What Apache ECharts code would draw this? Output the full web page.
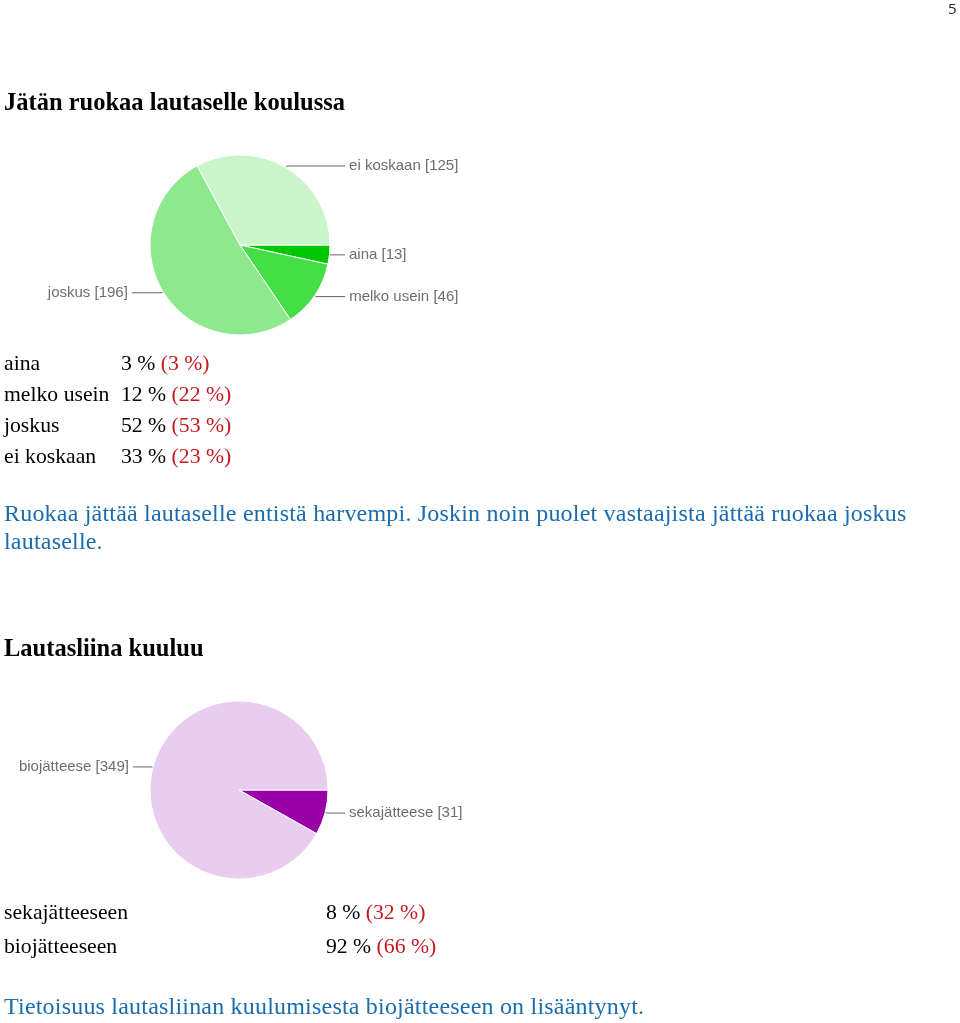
<!DOCTYPE html>
<html>
<head>
<meta charset="utf-8">
<script src="https://cdn.jsdelivr.net/npm/echarts@6/dist/echarts.min.js"></script>
<style>
  html, body { margin:0; padding:0; background:#fff; }
  #page { position:relative; width:960px; height:1023px; overflow:hidden; font-family:"Liberation Serif","Times New Roman",serif; color:#000; }
  #chart { position:absolute; left:0; top:0; width:960px; height:1023px; }
  .t { position:absolute; white-space:nowrap; line-height:22px; }
  .h { font-weight:bold; font-size:24.5px; }
  .b { font-size:21.7px; }
  .p { font-size:24px; letter-spacing:0.2px; }
  .blue { color:#1b6cae; }
  .red { color:#c8161d; }
  .pn { font-family:"Open Sans","Liberation Sans",sans-serif; font-size:15px; color:#222; }
</style>
</head>
<body>
<div id="page">
  <div id="chart"></div>
  <div class="t pn" style="left:948px;top:-3px;">5</div>
  <div class="t h" style="left:4px;top:91px;">Jätän ruokaa lautaselle koulussa</div>
  <div id="table1"></div>
  <div class="t p blue" style="left:4px;top:502px;">Ruokaa jättää lautaselle entistä harvempi. Joskin noin puolet vastaajista jättää ruokaa joskus</div>
  <div class="t p blue" style="left:4px;top:530px;">lautaselle.</div>
  <div class="t h" style="left:4px;top:637px;">Lautasliina kuuluu</div>
  <div id="table2"></div>
  <div class="t p blue" style="left:4px;top:995px;">Tietoisuus lautasliinan kuulumisesta biojätteeseen on lisääntynyt.</div>
</div>
<script>
// ---- data ----
const pie1Names = ['aina', 'melko usein', 'joskus', 'ei koskaan'];
const pie1Values = [13, 46, 196, 125];
const pie2Names = ['sekajätteese', 'biojätteese'];
const pie2Values = [31, 349];

const table1Labels = ['aina', 'melko usein', 'joskus', 'ei koskaan'];
const table1Now = ['3 %', '12 %', '52 %', '33 %'];
const table1Prev = ['(3 %)', '(22 %)', '(53 %)', '(23 %)'];

const table2Labels = ['sekajätteeseen', 'biojätteeseen'];
const table2Now = ['8 %', '92 %'];
const table2Prev = ['(32 %)', '(66 %)'];

// ---- text tables ----
function buildTable(el, labels, now, prev, top, step, col2) {
  let html = '';
  labels.forEach((l, i) => {
    const y = top + i * step;
    html += '<div class="t b" style="left:4px;top:' + y + 'px;">' + l + '</div>';
    html += '<div class="t b" style="left:' + col2 + 'px;top:' + y + 'px;">' + now[i] +
            ' <span class="red">' + prev[i] + '</span></div>';
  });
  el.innerHTML = html;
}
buildTable(document.getElementById('table1'), table1Labels, table1Now, table1Prev, 352, 31, 121);
buildTable(document.getElementById('table2'), table2Labels, table2Now, table2Prev, 901, 34, 326);

// ---- charts ----
const pie1Colors = ['#00c800', '#46de46', '#8ee98e', '#caf5ca'];
const pie2Colors = ['#9900a8', '#e9cdf0'];
const pie1Len2 = [13.5, 29, 29.5, 58];
const pie2Len2 = [18, 18];

const chart = echarts.init(document.getElementById('chart'), null, { renderer: 'canvas' });
const labelCommon = {
  show: true,
  position: 'outside',
  formatter: '{b} [{c}]',
  color: '#6e6e6e',
  fontSize: 15,
  fontFamily: 'Liberation Sans, Arial, sans-serif',
  distanceToLabelLine: 4
};
const lineCommon = { show: true, length: 2, lineStyle: { color: '#666', width: 1 } };
chart.setOption({
  animation: false,
  series: [
    {
      type: 'pie',
      center: [240, 245],
      radius: 90,
      startAngle: 0,
      clockwise: true,
      avoidLabelOverlap: false,
      silent: true,
      itemStyle: { borderColor: '#fff', borderWidth: 1 },
      label: labelCommon,
      labelLine: lineCommon,
      data: pie1Names.map((n, i) => ({
        name: n, value: pie1Values[i],
        itemStyle: { color: pie1Colors[i] },
        labelLine: { length2: pie1Len2[i] }
      }))
    },
    {
      type: 'pie',
      center: [239, 790],
      radius: 89,
      startAngle: 0,
      clockwise: true,
      avoidLabelOverlap: false,
      silent: true,
      itemStyle: { borderColor: '#fff', borderWidth: 1 },
      label: labelCommon,
      labelLine: lineCommon,
      data: pie2Names.map((n, i) => ({
        name: n, value: pie2Values[i],
        itemStyle: { color: pie2Colors[i] },
        labelLine: { length2: pie2Len2[i] }
      }))
    }
  ]
});
</script>
</body>
</html>
